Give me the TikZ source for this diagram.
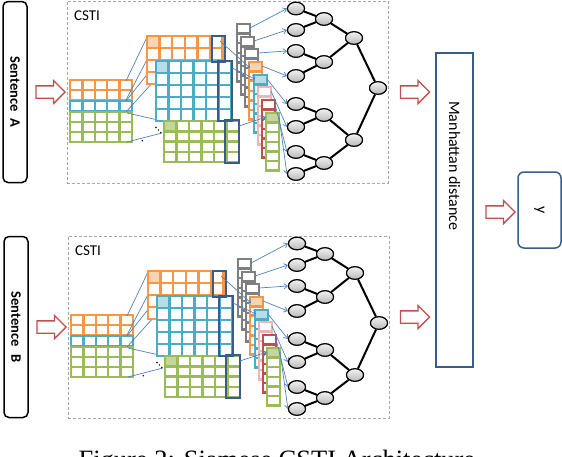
\documentclass[tikz,border=0pt]{standalone}
\usepackage{fontspec}
\setmainfont{Liberation Serif}
\newfontfamily\calib{Carlito}
\usetikzlibrary{calc,arrows.meta,shapes.arrows,shapes.geometric}

\definecolor{borange}{HTML}{F79646}
\definecolor{lorange}{HTML}{FBD4B4}
\definecolor{baqua}{HTML}{4BACC6}
\definecolor{laqua}{HTML}{B7DEE8}
\definecolor{bgreen}{HTML}{9BBB59}
\definecolor{lgreen}{HTML}{C3D69B}
\definecolor{bgray}{HTML}{7F7F7F}
\definecolor{bpink}{HTML}{E6B9B8}
\definecolor{bred}{HTML}{C0504D}
\definecolor{dblue}{HTML}{385D8A}
\definecolor{lineblue}{HTML}{4F81BD}
\definecolor{dashgray}{HTML}{A6A6A6}

\tikzset{
	cell/.style={draw=#1,line width=2.4pt,fill=white},
	win/.style={draw=dblue,line width=2pt},
	conv/.style={draw=lineblue,line width=0.7pt},
	feed/.style={draw=lineblue,line width=0.7pt,-{Straight Barb[length=3.5pt,width=5.5pt]}},
	leaf/.style={ellipse,draw=black,line width=1.1pt,top color=gray!10,bottom color=gray!55,minimum width=17pt,minimum height=12.5pt,inner sep=0pt},
	tedge/.style={draw=black,line width=2pt},
	bigarrow/.style={single arrow,draw=bred,fill=white,line width=1.3pt,minimum height=29pt,text height=0pt,text depth=0pt,inner xsep=0pt,inner ysep=5.5pt,single arrow head extend=5.5pt},
	sentbox/.style={draw=black,line width=1.5pt,rounded corners=5pt,rotate=-90,minimum width=181pt,minimum height=24pt,font=\calib\bfseries\fontsize{14.5}{16}\selectfont},
	cstibox/.style={draw=dashgray,line width=1pt,dash pattern=on 3pt off 2pt,minimum width=321pt,minimum height=182pt},
	mbox/.style={draw=dblue,line width=1.5pt,minimum width=37pt,minimum height=314pt},
	ybox/.style={draw=dblue,line width=1.5pt,rounded corners=6pt,rotate=-90,minimum width=76pt,minimum height=43pt,font=\calib\fontsize{16}{16}\selectfont}
}

% x, y, cols, rows, cell width, cell height, colour
\newcommand{\cells}[7]{
	\foreach \ci in {1,...,#3}{
		\foreach \cj in {1,...,#4}{
			\draw[cell=#7] ({#1+(\ci-1)*#5},{#2+(\cj-1)*#6}) rectangle ++(#5,#6);
		}
	}
}

% pooled column: x, y, colour, top fill, name
\newcommand{\pooled}[5]{
	\cells{#1}{#2}{1}{6}{13}{9.6}{#3}
	\draw[cell=#3,fill=#4] (#1,#2) rectangle ++(13,9.6);
	\coordinate (#5) at ($(#1,#2)+(13,4)$);
}

% one CSTI block: prefix, sentence letter
\newcommand{\cstiblock}[2]{
	\node[sentbox] (#1sent) at (15,92) {Sentence\hspace{0.5em}#2};
	\node[cstibox] (#1csti) at (227.5,92) {};
	\node[anchor=west,font=\calib\fontsize{15}{16}\selectfont] (#1lab) at (70.5,15.5) {CSTI};
	\node[bigarrow] (#1in) at (47.5,92) {};
	% sentence matrix
	\cells{70}{80}{5}{2}{12.4}{10}{borange}
	\cells{70}{101}{5}{1}{12.4}{10}{baqua}
	\cells{70}{112}{5}{3}{12.4}{10}{bgreen}
	% filter windows
	\draw[conv] (126,81) -- (147,37);
	\draw[conv] (126,100) -- (154,46);
	\draw[conv] (126,101) -- (157,62);
	\draw[conv] (126,112) -- (162,72);
	\draw[conv] (127,113) -- (167,122);
	\draw[conv] (127,142) -- (162,133);
	% feature maps
	\cells{147}{36}{6}{4}{12.6}{12}{borange}
	\draw[cell=borange,fill=lorange] (147,36) rectangle ++(12.6,12);
	\cells{156}{61}{6}{5}{12.5}{12}{baqua}
	\draw[cell=baqua,fill=laqua] (156,61) rectangle ++(12.5,12);
	\cells{164}{121}{6}{4}{12.5}{10.3}{bgreen}
	\draw[cell=bgreen,fill=lgreen] (164,121) rectangle ++(12.5,10.3);
	\fill (156,127.5) circle (0.8) (158.4,130) circle (0.8) (160.8,132.5) circle (0.8) (142.3,140.7) circle (0.8);
	\draw[win] (212,36) rectangle (225,62);
	\draw[win] (218,61) rectangle (232,121);
	\draw[win] (225,120) rectangle (239,163);
	\coordinate (#1wo) at (220,41);
	\coordinate (#1wb) at (232,68);
	\coordinate (#1wg) at (239,126);
	% pooled vectors
	\pooled{237}{24}{bgray}{white}{#1p1}
	\pooled{241}{37}{bgray}{white}{#1p2}
	\pooled{245}{49}{bgray}{white}{#1p3}
	\pooled{249}{62}{borange}{lorange}{#1p4}
	\pooled{254}{75}{baqua}{laqua}{#1p5}
	\pooled{258}{87}{bpink}{white}{#1p6}
	\pooled{262}{100}{bred}{white}{#1p7}
	\pooled{266}{113}{bgreen}{lgreen}{#1p8}
	\draw[feed] (#1wo) -- (250,68);
	\draw[feed] (#1wb) -- (255,79);
	\draw[feed] (#1wg) -- (266,117);
	% tree
	\node[leaf] (#1a1) at (296,8.5) {};
	\node[leaf] (#1a2) at (296,30) {};
	\node[leaf] (#1a3) at (296,51) {};
	\node[leaf] (#1a4) at (296,76) {};
	\node[leaf] (#1a5) at (296,104) {};
	\node[leaf] (#1a6) at (296,127) {};
	\node[leaf] (#1a7) at (296,152) {};
	\node[leaf] (#1a8) at (296,174) {};
	\node[leaf] (#1b1) at (324,19) {};
	\node[leaf] (#1b2) at (324,62) {};
	\node[leaf] (#1b3) at (324,115) {};
	\node[leaf] (#1b4) at (324,163) {};
	\node[leaf] (#1c1) at (354,38) {};
	\node[leaf] (#1c2) at (354,140) {};
	\node[leaf] (#1root) at (378,88) {};
	\foreach \k in {1,...,8}{
		\draw[feed] (#1p\k) -- (#1a\k.west);
	}
	\draw[tedge] (#1a1) -- (#1b1) -- (#1a2);
	\draw[tedge] (#1a3) -- (#1b2) -- (#1a4);
	\draw[tedge] (#1a5) -- (#1b3) -- (#1a6);
	\draw[tedge] (#1a7) -- (#1b4) -- (#1a8);
	\draw[tedge] (#1b1) -- (#1c1) -- (#1b2);
	\draw[tedge] (#1b3) -- (#1c2) -- (#1b4);
	\draw[tedge] (#1c1) -- (#1root) -- (#1c2);
	\foreach \n in {a1,a2,a3,a4,a5,a6,a7,a8,b1,b2,b3,b4,c1,c2,root}{
		\node[leaf] at (#1\n) {};
	}
}

\begin{document}
\begin{tikzpicture}[x=1pt,y=-1pt]
	\useasboundingbox (0,0) rectangle (562,456);
	\cstiblock{A}{A}
	\begin{scope}[shift={(1,235)}]
		\cstiblock{B}{B}
	\end{scope}
	\node[mbox] (manh) at (454.5,210) {};
	\node[rotate=-90,font=\calib\fontsize{16}{16}\selectfont] (manhlab) at (454.5,166) {Manhattan distance};
	\node[bigarrow] (toma) at (412,92) {};
	\node[bigarrow] (tomb) at (412,317) {};
	\node[bigarrow] (toy) at (497.5,212) {};
	\node[ybox] (out) at (539.5,210) {y};
	\node[anchor=base west,font=\fontsize{26.5}{30}\selectfont] (caption) at (75,468) {Figure 2: Siamese CSTI Architecture};
\end{tikzpicture}
\end{document}
